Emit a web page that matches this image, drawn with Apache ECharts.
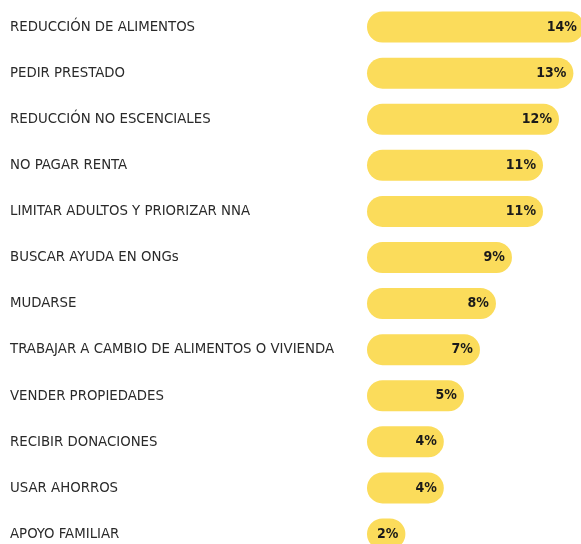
<!DOCTYPE html>
<html><head><meta charset="utf-8">
<script src="https://cdn.jsdelivr.net/npm/echarts@6/dist/echarts.min.js"></script>
<style>html,body{margin:0;padding:0;background:#fff}#c{width:581px;height:544px}</style>
</head><body><div id="c"></div>
<script>
const categories = [
  'REDUCCIÓN DE ALIMENTOS','PEDIR PRESTADO','REDUCCIÓN NO ESCENCIALES','NO PAGAR RENTA',
  'LIMITAR ADULTOS Y PRIORIZAR NNA','BUSCAR AYUDA EN ONGs','MUDARSE',
  'TRABAJAR A CAMBIO DE ALIMENTOS O VIVIENDA','VENDER PROPIEDADES','RECIBIR DONACIONES',
  'USAR AHORROS','APOYO FAMILIAR'
];
const barValues = [13.56, 12.9, 12.0, 11.0, 11.0, 9.06, 8.06, 7.06, 6.06, 4.8, 4.8, 2.4];
const valueLabels = ['14%','13%','12%','11%','11%','9%','8%','7%','5%','4%','4%','2%'];

const FONT = '"DejaVu Sans Condensed", sans-serif';
const chart = echarts.init(document.getElementById('c'), null, {renderer:'canvas'});
chart.setOption({
  animation:false,
  grid:{left:367, top:4, width:240, height:553, containLabel:false, outerBoundsMode:'none'},
  xAxis:{type:'value', min:0, max:15, show:false},
  yAxis:{type:'category', data:categories, inverse:true,
    axisLine:{show:false}, axisTick:{show:false}, splitLine:{show:false},
    axisLabel:{align:'left', margin:357, color:'#2a2a2a', fontSize:14.8,
      fontFamily:FONT}},
  series:[{type:'bar', data:barValues, barWidth:31,
    itemStyle:{color:'#FBDC5B', borderRadius:15.5},
    label:{show:true, position:'insideRight', distance:7, color:'#1a1a1a',
      fontWeight:'bold', fontSize:14, fontFamily:FONT,
      formatter:p=>valueLabels[p.dataIndex]}
  }]
});
</script></body></html>
